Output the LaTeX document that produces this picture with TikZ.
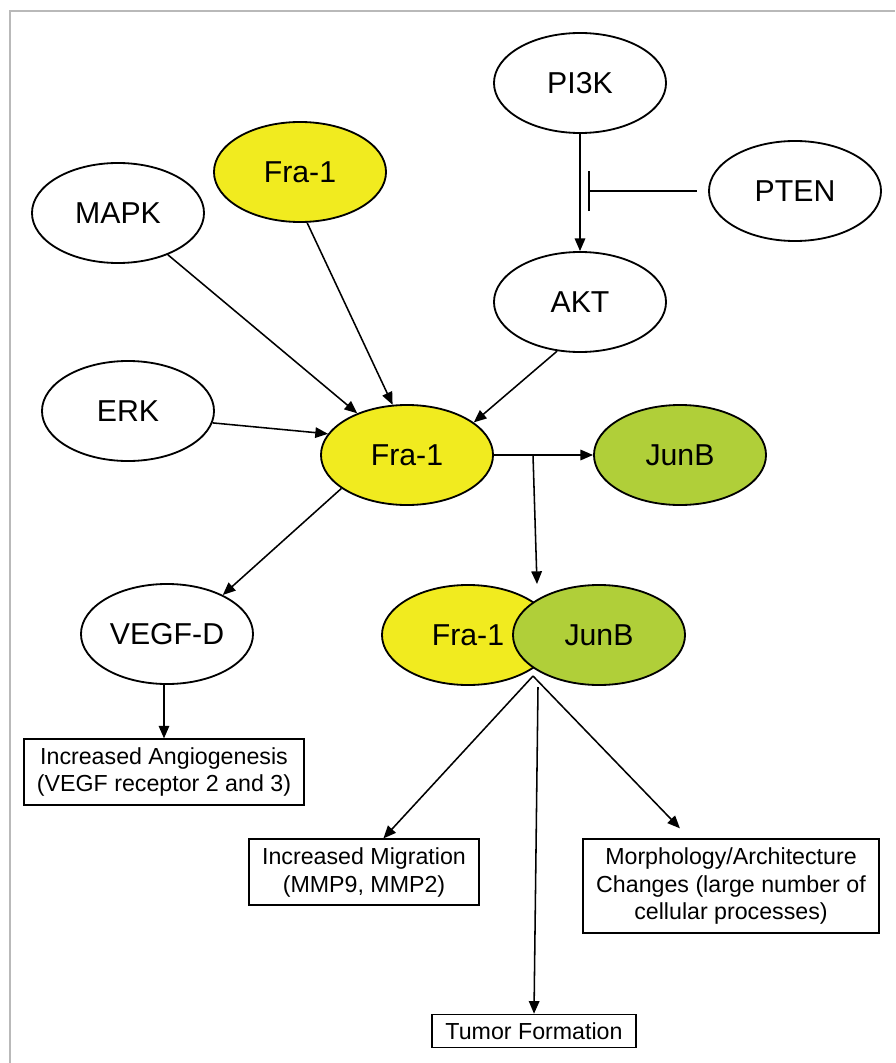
\documentclass[tikz,border=0pt]{standalone}
\usepackage{fontspec}
\setmainfont{Liberation Sans}
\usepackage{tikz}
\usetikzlibrary{shapes.geometric, arrows.meta, positioning, calc}
\definecolor{fragold}{RGB}{241, 235, 31}
\definecolor{junbgreen}{RGB}{176, 207, 57}
\definecolor{framegray}{RGB}{185, 185, 185}

\begin{document}
\begin{tikzpicture}[
  x=0.025cm, y=-0.025cm,
  gene/.style={ellipse, draw=black, line width=1.3pt, fill=white, minimum width=4.3cm, minimum height=2.5cm, inner sep=0pt, font=\fontsize{21.5}{25}\selectfont},
  fra/.style={gene, fill=fragold},
  junb/.style={gene, fill=junbgreen},
  outcome/.style={rectangle, draw=black, line width=1.1pt, fill=white, align=center, inner xsep=0.33cm, inner ysep=0.2cm, font=\fontsize{16.5}{19.9}\selectfont},
  arr/.style={-{Triangle[length=9pt, width=7.5pt]}, line width=1.1pt, draw=black},
  inh/.style={-{Bar[width=1cm]}, line width=1.1pt, draw=black}
]
  \useasboundingbox (0,0) rectangle (895,1063);
  \draw[framegray, line width=1.1pt] (10,1063) -- (10,11) -- (895,11);

  \node[gene] (pi3k) at (580,83) {PI3K};
  \node[gene] (pten) at (795,191) {PTEN};
  \node[fra] (fratop) at (300,172) {Fra-1};
  \node[gene] (mapk) at (118,213) {MAPK};
  \node[gene] (akt) at (580,302) {AKT};
  \node[gene] (erk) at (128,411) {ERK};
  \node[fra] (fra) at (407,455) {Fra-1};
  \node[junb] (junb) at (680,455) {JunB};
  \node[gene] (vegf) at (167,634) {VEGF-D};
  \node[fra] (frab) at (468,635) {Fra-1};
  \node[junb] (junbb) at (599,635) {JunB};

  \node[outcome] (ang) at (164,772) {Increased Angiogenesis\\(VEGF receptor 2 and 3)};
  \node[outcome] (mig) at (364,872) {Increased Migration\\(MMP9, MMP2)};
  \node[outcome] (morph) at (731,886) {Morphology/Architecture\\Changes (large number of\\cellular processes)};
  \node[outcome] (tumor) at (534,1031) {Tumor Formation};

  \coordinate (block) at (588,191);
  \coordinate (split) at (533,455);
  \coordinate (cpxin) at (537,584);
  \coordinate (cpxout) at (533,676);
  \coordinate (cpxmid) at (538,687);

  \draw[arr] (pi3k) -- (akt);
  \draw[inh, shorten <=0.28cm] (pten) -- (block);
  \draw[arr] (mapk) -- (fra);
  \draw[arr] (fratop.278) -- (fra.106);
  \draw[arr] (akt.245) -- (fra.26);
  \draw[arr] (erk.352) -- (fra.165);
  \draw[arr] (fra) -- (junb);
  \draw[arr] (split) -- (cpxin);
  \draw[arr] (fra.207) -- (vegf.35);
  \draw[arr] (vegf.south -| ang.north) -- (ang.north);
  \draw[arr] (cpxout) -- (mig.60);
  \draw[arr] (cpxmid) -- (tumor.north);
  \draw[arr, shorten >=0.35cm] (cpxout) -- (morph.131);

\end{tikzpicture}
\end{document}
